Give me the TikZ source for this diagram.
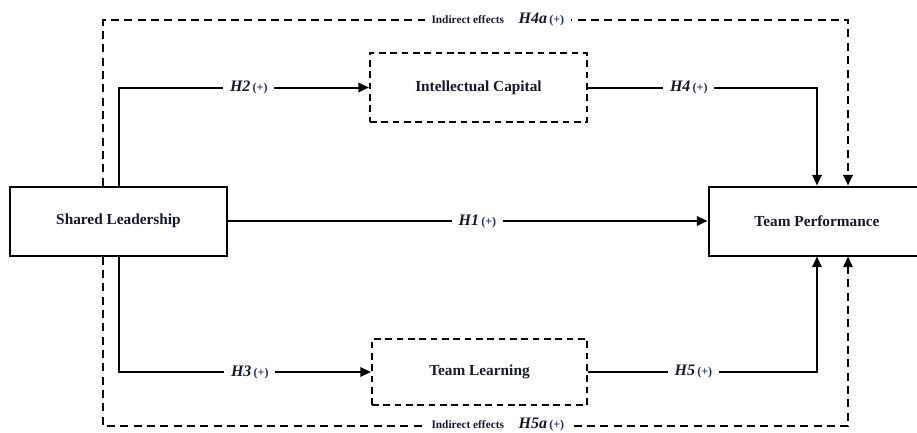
\documentclass[tikz,border=0pt]{standalone}
\usepackage{fontspec}
\setmainfont{Liberation Serif}
\usetikzlibrary{arrows.meta,positioning}
\definecolor{ink}{RGB}{25,25,45}
\definecolor{sgn}{RGB}{35,45,100}
\tikzstyle{var}=[draw,line width=1.5pt,fill=white,text=ink,font=\fontsize{11.5}{13}\selectfont\bfseries,minimum width=162.75pt,minimum height=51.75pt]
\tikzstyle{med}=[var,dash pattern=on 5pt off 3.5pt]
\tikzstyle{lnk}=[line width=1.5pt,-{Triangle[length=8pt,width=7pt]}]
\tikzstyle{ind}=[lnk,dash pattern=on 6pt off 4pt]
\tikzstyle{hyp}=[fill=white,text=ink,inner xsep=5pt]
\newcommand{\hypo}[1]{{\fontsize{12}{13}\selectfont\textbf{\textit{#1}}}\,{\fontsize{9}{10}\selectfont\color{sgn}\textbf{(+)}}}
\newcommand{\indir}{{\fontsize{8.5}{9}\selectfont\bfseries Indirect effects}\hspace{11pt}}

\begin{document}
\begin{tikzpicture}[x=0.75pt,y=-0.75pt]
    \useasboundingbox (0,0) rectangle (917,432);
    \node[var] (sl) at (118.5,221) {Shared Leadership};
    \node[var] (tp) at (817,221) {Team Performance};
    \node[med] (ic) at (478.5,87.5) {Intellectual Capital};
    \node[med,minimum width=161.25pt,minimum height=49.5pt] (tl) at (479.5,372) {Team Learning};
    \coordinate (tlc) at (103,20);
    \coordinate (trc) at (848,20);
    \coordinate (blc) at (103,426);
    \coordinate (brc) at (848,426);
    \draw[ind] (tlc |- sl.north) -- (tlc) -- node[hyp,pos=0.53] {\indir\hypo{H4a}} (trc) -- (trc |- tp.north);
    \draw[ind] (blc |- sl.south) -- (blc) -- node[hyp,pos=0.53,inner ysep=1pt,yshift=1pt] {\indir\hypo{H5a}} (brc) -- (brc |- tp.south);
    \draw[lnk] (sl.north) |- node[hyp,pos=0.76] {\hypo{H2}} (ic.west);
    \draw[lnk] (ic.east) -| node[hyp,pos=0.22] {\hypo{H4}} (tp.north);
    \draw[lnk] (sl.east) -- node[hyp,pos=0.52] {\hypo{H1}} (sl.east -| tp.west);
    \draw[lnk] (sl.south) |- node[hyp,pos=0.76] {\hypo{H3}} (tl.west);
    \draw[lnk] (tl.east) -| node[hyp,pos=0.23] {\hypo{H5}} (tp.south);
\end{tikzpicture}
\end{document}
